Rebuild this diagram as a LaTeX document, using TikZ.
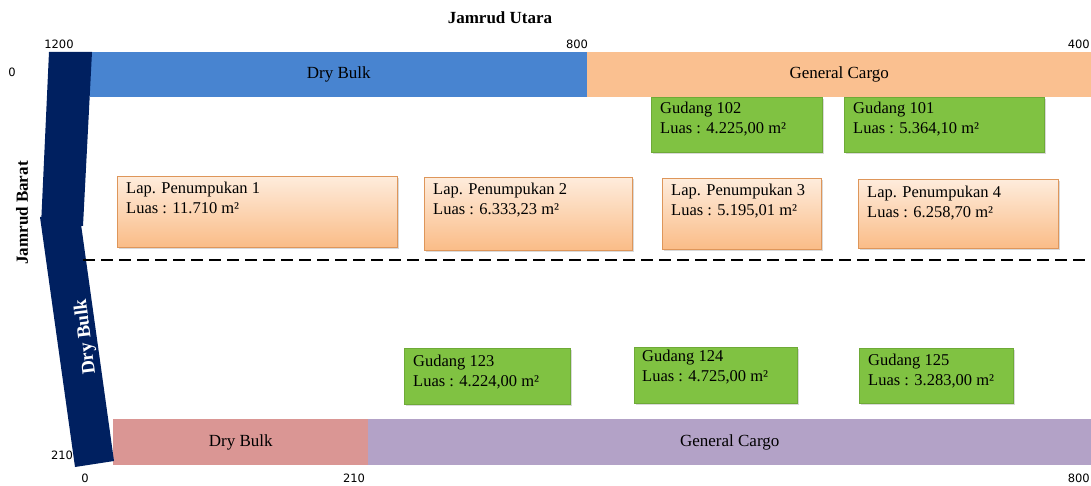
\documentclass[tikz,border=0pt]{standalone}
\usepackage{fontspec}
\setmainfont{Liberation Serif}
\newfontfamily\numfont{DejaVu Sans}
\usetikzlibrary{shadows}
\definecolor{navy}{RGB}{0,32,96}
\definecolor{barblue}{RGB}{72,132,208}
\definecolor{barorange}{RGB}{250,192,144}
\definecolor{barpink}{RGB}{218,150,148}
\definecolor{barpurple}{RGB}{179,162,199}
\definecolor{boxgreen}{RGB}{128,194,66}
\definecolor{greenedge}{RGB}{110,170,55}
\definecolor{laptop}{RGB}{254,236,220}
\definecolor{lapbot}{RGB}{250,188,135}
\definecolor{lapedge}{RGB}{222,150,90}
\begin{document}
\begin{tikzpicture}[x=1pt,y=-1pt,
  txt/.style={font=\fontsize{16.5}{20}\selectfont, inner sep=0pt},
  num/.style={font=\numfont\fontsize{11.5}{13}\selectfont, inner sep=0pt},
  bar/.style={rectangle, draw=none, inner sep=0pt, anchor=north west, font=\fontsize{17}{20}\selectfont},
  lapbox/.style={rectangle, anchor=north west, inner sep=0pt, draw=lapedge, line width=0.8pt,
     top color=laptop, bottom color=lapbot,
     drop shadow={shadow xshift=1.5pt, shadow yshift=-1.5pt, opacity=0.3}},
  gudbox/.style={rectangle, anchor=north west, inner sep=0pt, draw=greenedge, line width=0.6pt, fill=boxgreen,
     drop shadow={shadow xshift=1.5pt, shadow yshift=-1.5pt, opacity=0.3}},
  boxtext/.style={txt, anchor=north west, align=left},
]
\useasboundingbox (0,0) rectangle (1091,486);

% title
\node[txt, font=\bfseries\fontsize{17}{20}\selectfont] (title) at (500,18) {Jamrud Utara};

% top bars
\node[bar, fill=barblue, minimum width=497pt, minimum height=45pt] (tdry) at (90,52) {Dry Bulk};
\node[bar, fill=barorange, minimum width=504pt, minimum height=45pt] (tgen) at (587,52) {General Cargo};

% bottom bars
\node[bar, fill=barpink, minimum width=255pt, minimum height=46pt] (bdry) at (113,419) {Dry Bulk};
\node[bar, fill=barpurple, minimum width=723pt, minimum height=46pt] (bgen) at (368,419) {General Cargo};

% left navy band (Jamrud Barat)
\fill[navy] (49,52) -- (92,52) -- (83,226) -- (41,226) -- cycle;
\fill[navy] (40,217) -- (80,217) -- (114,461) -- (75,467) -- cycle;
\node[txt, text=white, font=\bfseries\fontsize{19}{22}\selectfont, rotate=97] (ldry) at (86,337) {Dry Bulk};
\node[txt, font=\bfseries\fontsize{17}{20}\selectfont, rotate=90] (barat) at (22,213) {Jamrud Barat};

% scale numbers
\node[num] (n1200) at (59,44) {1200};
\node[num] (n800t) at (577,44) {800};
\node[num, anchor=east] (n400) at (1090,44) {400};
\node[num] (n0l) at (12,72) {0};
\node[num] (n210l) at (62,455) {210};
\node[num] (n0b) at (85,478) {0};
\node[num] (n210b) at (354,478) {210};
\node[num, anchor=east] (n800b) at (1090,478) {800};

% dashed line
\coordinate (dashA) at (83,260);
\coordinate (dashB) at (1091,260);
\draw[line width=2pt, dash pattern=on 12pt off 6pt] (dashA) -- (dashB);

% Lapangan penumpukan
\node[lapbox, minimum width=280pt, minimum height=71pt] (lap1) at (117,176) {};
\node[boxtext] (lap1t) at ([shift={(9,6)}]lap1.north west) {Lap. Penumpukan 1\\Luas : 11.710 m²};
\node[lapbox, minimum width=208pt, minimum height=73pt] (lap2) at (424,177) {};
\node[boxtext] (lap2t) at ([shift={(9,6)}]lap2.north west) {Lap. Penumpukan 2\\Luas : 6.333,23 m²};
\node[lapbox, minimum width=159pt, minimum height=71pt] (lap3) at (662,178) {};
\node[boxtext] (lap3t) at ([shift={(9,6)}]lap3.north west) {Lap. Penumpukan 3\\Luas : 5.195,01 m²};
\node[lapbox, minimum width=200pt, minimum height=69pt] (lap4) at (858,179) {};
\node[boxtext] (lap4t) at ([shift={(9,7)}]lap4.north west) {Lap. Penumpukan 4\\Luas : 6.258,70 m²};

% Gudang
\node[gudbox, minimum width=171pt, minimum height=55pt] (g102) at (651,97) {};
\node[boxtext] (g102t) at ([shift={(9,5)}]g102.north west) {Gudang 102\\Luas : 4.225,00 m²};
\node[gudbox, minimum width=200pt, minimum height=55pt] (g101) at (844,97) {};
\node[boxtext] (g101t) at ([shift={(9,5)}]g101.north west) {Gudang 101\\Luas : 5.364,10 m²};
\node[gudbox, minimum width=166pt, minimum height=56pt] (g123) at (404,348) {};
\node[boxtext] (g123t) at ([shift={(9,7)}]g123.north west) {Gudang 123\\Luas : 4.224,00 m²};
\node[gudbox, minimum width=163pt, minimum height=56pt] (g124) at (634,347) {};
\node[boxtext] (g124t) at ([shift={(8,3)}]g124.north west) {Gudang 124\\Luas : 4.725,00 m²};
\node[gudbox, minimum width=154pt, minimum height=55pt] (g125) at (859,348) {};
\node[boxtext] (g125t) at ([shift={(9,6)}]g125.north west) {Gudang 125\\Luas : 3.283,00 m²};
\end{tikzpicture}
\end{document}
